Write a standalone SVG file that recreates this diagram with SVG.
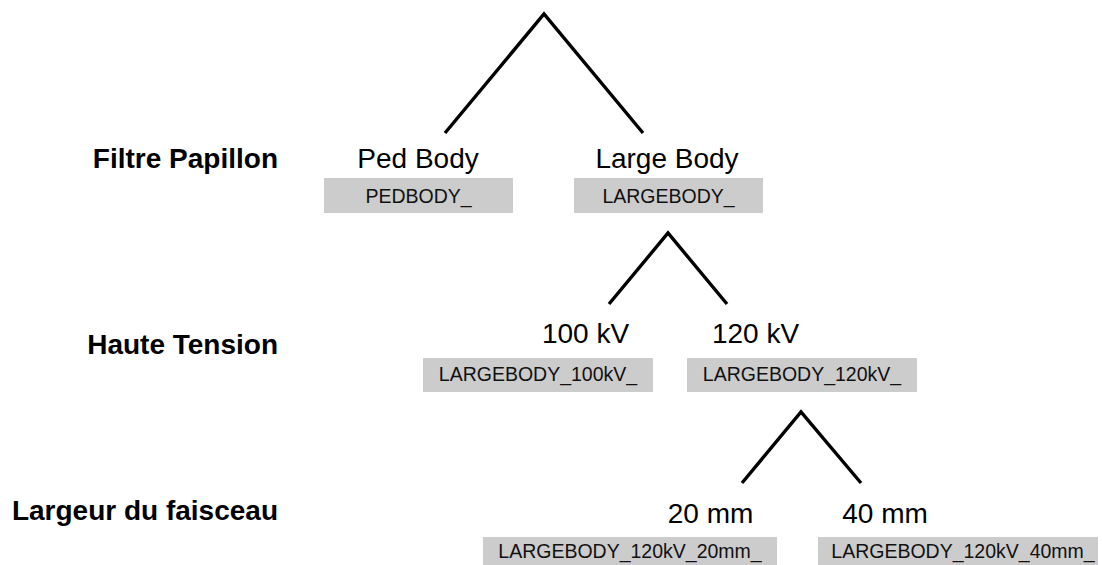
<svg xmlns="http://www.w3.org/2000/svg" width="1102" height="565" viewBox="0 0 1102 565">
<style>
.lvl{font-family:"Liberation Sans",Arial,sans-serif;font-weight:bold;font-size:28px;fill:#000;text-anchor:end}
.lbl{font-family:"Liberation Sans",Arial,sans-serif;font-size:28px;fill:#000;text-anchor:middle}
.code{font-family:"Liberation Sans",Arial,sans-serif;font-size:19.5px;fill:#111;text-anchor:middle}
.box{fill:#cccccc}
.edge{stroke:#000;stroke-width:3.4;fill:none;stroke-linecap:butt;stroke-linejoin:miter}
</style>
<rect width="1102" height="565" fill="#fff"/>
<g id="levels">
<text class="lvl" x="278" y="168">Filtre Papillon</text>
<text class="lvl" x="278" y="354">Haute Tension</text>
<text class="lvl" x="278" y="520">Largeur du faisceau</text>
</g>
<g id="connectors">
<polyline class="edge" points="445,133 544,14 643,133"/>
<polyline class="edge" points="609,304 668,233 727,304"/>
<polyline class="edge" points="742,483 801,412 861,483"/>
</g>
<g id="ped-body">
<text class="lbl" x="418" y="168">Ped Body</text>
<rect class="box" x="324" y="178" width="189" height="35"/>
<text class="code" x="418.5" y="202.5">PEDBODY_</text>
</g>
<g id="large-body">
<text class="lbl" x="667" y="168">Large Body</text>
<rect class="box" x="574" y="178" width="189" height="35"/>
<text class="code" x="668.5" y="202.5">LARGEBODY_</text>
</g>
<g id="kv100">
<text class="lbl" x="585.5" y="343">100 kV</text>
<rect class="box" x="423" y="358" width="230" height="34"/>
<text class="code" x="538" y="381">LARGEBODY_100kV_</text>
</g>
<g id="kv120">
<text class="lbl" x="755.5" y="343">120 kV</text>
<rect class="box" x="687" y="358" width="230" height="34"/>
<text class="code" x="802" y="381">LARGEBODY_120kV_</text>
</g>
<g id="mm20">
<text class="lbl" x="710.5" y="523">20 mm</text>
<rect class="box" x="483" y="537" width="294" height="35"/>
<text class="code" x="630" y="558">LARGEBODY_120kV_20mm_</text>
</g>
<g id="mm40">
<text class="lbl" x="885" y="523">40 mm</text>
<rect class="box" x="818" y="537" width="280" height="35"/>
<text class="code" x="963" y="558">LARGEBODY_120kV_40mm_</text>
</g>
</svg>
